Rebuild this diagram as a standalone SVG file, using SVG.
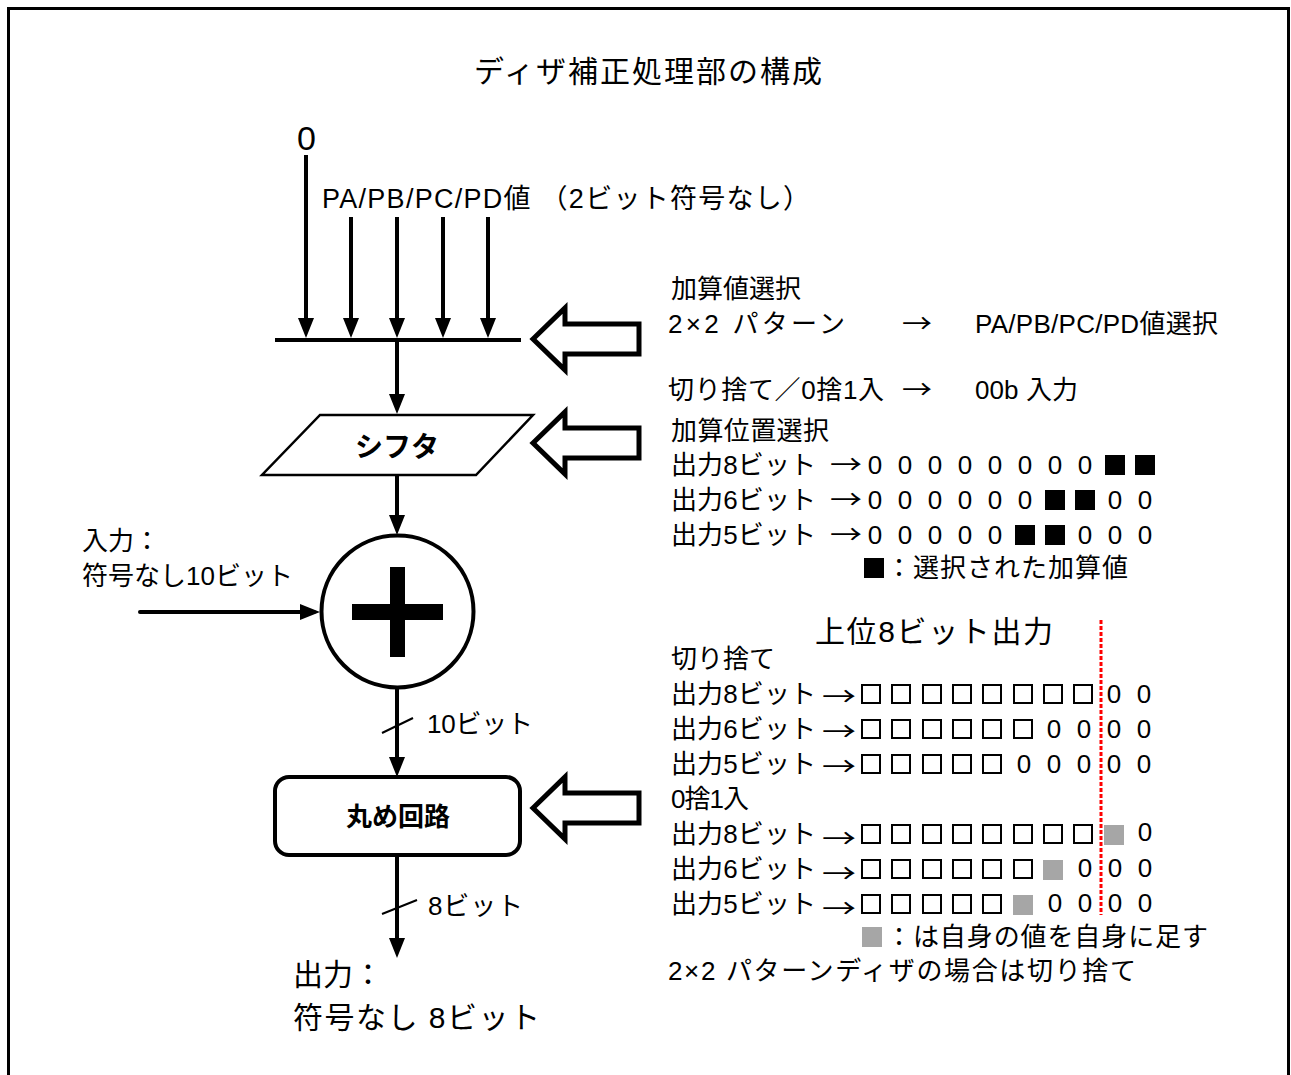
<svg xmlns="http://www.w3.org/2000/svg" width="1291" height="1075" viewBox="0 0 1291 1075">
<defs>
<style>
text{font-family:"Liberation Sans","Noto Sans CJK JP",sans-serif;fill:#000}
.t26{font-size:26px}
.z{font-size:26px;text-anchor:middle}
.ar{font-family:"Noto Sans CJK JP",sans-serif;font-size:26px}
.ln{stroke:#000;stroke-width:4;fill:none}
.hb{fill:#fff;stroke:#000;stroke-width:5;stroke-linejoin:miter}
.sq{fill:#fff;stroke:#000;stroke-width:2}
.bk{fill:#000}
.gy{fill:#a6a6a6}
</style>
<marker id="ah" markerUnits="userSpaceOnUse" viewBox="0 0 20 16" markerWidth="20" markerHeight="16" refX="14" refY="8" orient="auto">
<path d="M0,0 L20,8 L0,16 z" fill="#000"/>
</marker>
</defs>
<rect x="8.5" y="8.5" width="1280" height="1100" fill="#fff" stroke="#000" stroke-width="3"/>

<text id="title" x="474" y="82" style="font-size:30px" textLength="348">ディザ補正処理部の構成</text>

<g id="connectors">
<line class="ln" x1="306" y1="155" x2="306" y2="332" marker-end="url(#ah)"/>
<line class="ln" x1="351" y1="217" x2="351" y2="332" marker-end="url(#ah)"/>
<line class="ln" x1="397" y1="217" x2="397" y2="332" marker-end="url(#ah)"/>
<line class="ln" x1="443" y1="217" x2="443" y2="332" marker-end="url(#ah)"/>
<line class="ln" x1="488" y1="217" x2="488" y2="332" marker-end="url(#ah)"/>
<line class="ln" x1="275" y1="340" x2="521" y2="340"/>
<line class="ln" x1="397" y1="340" x2="397" y2="408" marker-end="url(#ah)"/>
<line class="ln" x1="397" y1="475" x2="397" y2="529" marker-end="url(#ah)"/>
<line class="ln" x1="140" y1="612" x2="314" y2="612" stroke-linecap="round" marker-end="url(#ah)"/>
<line class="ln" x1="397" y1="688" x2="397" y2="771" marker-end="url(#ah)"/>
<line x1="382" y1="733" x2="413" y2="718" stroke="#000" stroke-width="2"/>
<line class="ln" x1="397" y1="855" x2="397" y2="952" marker-end="url(#ah)"/>
<line x1="382" y1="914" x2="417" y2="900" stroke="#000" stroke-width="2"/>
<polygon class="hb" points="533,339 565,308 565,324 639,324 639,354 565,354 565,370"/>
<polygon class="hb" points="533,443 565,412 565,428 639,428 639,458 565,458 565,474"/>
<polygon class="hb" points="533,808 565,777 565,793 639,793 639,823 565,823 565,839"/>
<line x1="1101" y1="620" x2="1101" y2="915" stroke="#ff0000" stroke-width="3" stroke-dasharray="4,2"/>
</g>

<g id="in-zero"><text x="297" y="150" style="font-size:34px">0</text></g>
<g id="in-p"><text x="322" y="208" style="font-size:27px" textLength="488">PA/PB/PC/PD値 （2ビット符号なし）</text></g>

<g id="shifter">
<polygon points="320,415 533,415 476,475 262,475" fill="#fff" stroke="#000" stroke-width="2.5"/>
<text x="397" y="457" style="font-size:28px;font-weight:bold;text-anchor:middle">シフタ</text>
</g>

<g id="adder">
<circle cx="397.5" cy="611.5" r="76" fill="#fff" stroke="#000" stroke-width="4"/>
<rect x="390" y="567" width="15" height="90" fill="#000"/>
<rect x="352" y="604" width="91" height="16" fill="#000"/>
</g>

<g id="input">
<text class="t26" x="82" y="550">入力：</text>
<text class="t26" x="82" y="585" textLength="211">符号なし10ビット</text>
</g>
<g id="lbl10"><text class="t26" x="427" y="733" textLength="106">10ビット</text></g>

<g id="round">
<rect x="275" y="777" width="245" height="78" rx="14" fill="#fff" stroke="#000" stroke-width="4"/>
<text x="398" y="826" style="font-size:26px;font-weight:bold;text-anchor:middle">丸め回路</text>
</g>
<g id="lbl8"><text class="t26" x="428" y="915" textLength="95">8ビット</text></g>
<g id="output">
<text x="293" y="985" style="font-size:30px">出力：</text>
<text x="293" y="1028" style="font-size:30px" textLength="247">符号なし 8ビット</text>
</g>

<g id="sel">
<text class="t26" x="671" y="298" textLength="130">加算値選択</text>
<text class="t26" x="668" y="333" textLength="177">2×2 パターン</text>
<text class="ar" x="902" y="333" textLength="30" lengthAdjust="spacingAndGlyphs">→</text>
<text class="t26" x="975" y="333" textLength="243">PA/PB/PC/PD値選択</text>
<text class="t26" x="668" y="399" textLength="216">切り捨て／0捨1入</text>
<text class="ar" x="902" y="399" textLength="30" lengthAdjust="spacingAndGlyphs">→</text>
<text class="t26" x="975" y="399" textLength="103">00b 入力</text>
</g>

<g id="pos">
<text class="t26" x="671" y="440" textLength="158">加算位置選択</text>
<text class="t26" x="671" y="474" textLength="145">出力8ビット</text>
<text class="ar" x="830" y="474" textLength="32" lengthAdjust="spacingAndGlyphs">→</text>
<text class="z" x="875" y="474">0</text><text class="z" x="905" y="474">0</text><text class="z" x="935" y="474">0</text><text class="z" x="965" y="474">0</text><text class="z" x="995" y="474">0</text><text class="z" x="1025" y="474">0</text><text class="z" x="1055" y="474">0</text><text class="z" x="1085" y="474">0</text>
<rect class="bk" x="1105" y="455" width="20" height="20"/><rect class="bk" x="1135" y="455" width="20" height="20"/>
<text class="t26" x="671" y="509" textLength="145">出力6ビット</text>
<text class="ar" x="830" y="509" textLength="32" lengthAdjust="spacingAndGlyphs">→</text>
<text class="z" x="875" y="509">0</text><text class="z" x="905" y="509">0</text><text class="z" x="935" y="509">0</text><text class="z" x="965" y="509">0</text><text class="z" x="995" y="509">0</text><text class="z" x="1025" y="509">0</text>
<rect class="bk" x="1045" y="490" width="20" height="20"/><rect class="bk" x="1075" y="490" width="20" height="20"/>
<text class="z" x="1115" y="509">0</text><text class="z" x="1145" y="509">0</text>
<text class="t26" x="671" y="544" textLength="145">出力5ビット</text>
<text class="ar" x="830" y="544" textLength="32" lengthAdjust="spacingAndGlyphs">→</text>
<text class="z" x="875" y="544">0</text><text class="z" x="905" y="544">0</text><text class="z" x="935" y="544">0</text><text class="z" x="965" y="544">0</text><text class="z" x="995" y="544">0</text>
<rect class="bk" x="1015" y="525" width="20" height="20"/><rect class="bk" x="1045" y="525" width="20" height="20"/>
<text class="z" x="1085" y="544">0</text><text class="z" x="1115" y="544">0</text><text class="z" x="1145" y="544">0</text>
<rect class="bk" x="864" y="558" width="20" height="20"/>
<text class="t26" x="886" y="577" textLength="242">：選択された加算値</text>
</g>

<g id="upper8">
<text x="815" y="642" style="font-size:30px" textLength="238">上位8ビット出力</text>
<text class="t26" x="671" y="668" textLength="104">切り捨て</text>
<text class="t26" x="671" y="703" textLength="145">出力8ビット</text>
<text class="ar" x="822" y="706" textLength="34" lengthAdjust="spacingAndGlyphs">→</text>
<rect class="sq" x="862" y="685" width="18" height="18"/><rect class="sq" x="892" y="685" width="18" height="18"/><rect class="sq" x="923" y="685" width="18" height="18"/><rect class="sq" x="953" y="685" width="18" height="18"/><rect class="sq" x="983" y="685" width="18" height="18"/><rect class="sq" x="1014" y="685" width="18" height="18"/><rect class="sq" x="1044" y="685" width="18" height="18"/><rect class="sq" x="1074" y="685" width="18" height="18"/>
<text class="z" x="1114" y="703">0</text><text class="z" x="1144" y="703">0</text>
<text class="t26" x="671" y="738" textLength="145">出力6ビット</text>
<text class="ar" x="822" y="741" textLength="34" lengthAdjust="spacingAndGlyphs">→</text>
<rect class="sq" x="862" y="720" width="18" height="18"/><rect class="sq" x="892" y="720" width="18" height="18"/><rect class="sq" x="923" y="720" width="18" height="18"/><rect class="sq" x="953" y="720" width="18" height="18"/><rect class="sq" x="983" y="720" width="18" height="18"/><rect class="sq" x="1014" y="720" width="18" height="18"/>
<text class="z" x="1054" y="738">0</text><text class="z" x="1084" y="738">0</text><text class="z" x="1114" y="738">0</text><text class="z" x="1144" y="738">0</text>
<text class="t26" x="671" y="773" textLength="145">出力5ビット</text>
<text class="ar" x="822" y="776" textLength="34" lengthAdjust="spacingAndGlyphs">→</text>
<rect class="sq" x="862" y="755" width="18" height="18"/><rect class="sq" x="892" y="755" width="18" height="18"/><rect class="sq" x="923" y="755" width="18" height="18"/><rect class="sq" x="953" y="755" width="18" height="18"/><rect class="sq" x="983" y="755" width="18" height="18"/>
<text class="z" x="1024" y="773">0</text><text class="z" x="1054" y="773">0</text><text class="z" x="1084" y="773">0</text><text class="z" x="1114" y="773">0</text><text class="z" x="1144" y="773">0</text>

<text class="t26" x="671" y="808" textLength="78">0捨1入</text>
<text class="t26" x="671" y="843" textLength="145">出力8ビット</text>
<text class="ar" x="822" y="848" textLength="34" lengthAdjust="spacingAndGlyphs">→</text>
<rect class="sq" x="862" y="825" width="18" height="18"/><rect class="sq" x="892" y="825" width="18" height="18"/><rect class="sq" x="923" y="825" width="18" height="18"/><rect class="sq" x="953" y="825" width="18" height="18"/><rect class="sq" x="983" y="825" width="18" height="18"/><rect class="sq" x="1014" y="825" width="18" height="18"/><rect class="sq" x="1044" y="825" width="18" height="18"/><rect class="sq" x="1074" y="825" width="18" height="18"/>
<rect class="gy" x="1104" y="825" width="20" height="20"/>
<text class="z" x="1145" y="841">0</text>
<text class="t26" x="671" y="878" textLength="145">出力6ビット</text>
<text class="ar" x="822" y="883" textLength="34" lengthAdjust="spacingAndGlyphs">→</text>
<rect class="sq" x="862" y="860" width="18" height="18"/><rect class="sq" x="892" y="860" width="18" height="18"/><rect class="sq" x="923" y="860" width="18" height="18"/><rect class="sq" x="953" y="860" width="18" height="18"/><rect class="sq" x="983" y="860" width="18" height="18"/><rect class="sq" x="1014" y="860" width="18" height="18"/>
<rect class="gy" x="1043" y="860" width="20" height="20"/>
<text class="z" x="1085" y="877">0</text><text class="z" x="1115" y="877">0</text><text class="z" x="1145" y="877">0</text>
<text class="t26" x="671" y="913" textLength="145">出力5ビット</text>
<text class="ar" x="822" y="918" textLength="34" lengthAdjust="spacingAndGlyphs">→</text>
<rect class="sq" x="862" y="895" width="18" height="18"/><rect class="sq" x="892" y="895" width="18" height="18"/><rect class="sq" x="923" y="895" width="18" height="18"/><rect class="sq" x="953" y="895" width="18" height="18"/><rect class="sq" x="983" y="895" width="18" height="18"/>
<rect class="gy" x="1013" y="895" width="20" height="20"/>
<text class="z" x="1055" y="912">0</text><text class="z" x="1085" y="912">0</text><text class="z" x="1115" y="912">0</text><text class="z" x="1145" y="912">0</text>
<rect class="gy" x="862" y="927" width="20" height="20"/>
<text class="t26" x="886" y="946" textLength="322">：は自身の値を自身に足す</text>
<text class="t26" x="668" y="980" textLength="468">2×2 パターンディザの場合は切り捨て</text>
</g>
</svg>
